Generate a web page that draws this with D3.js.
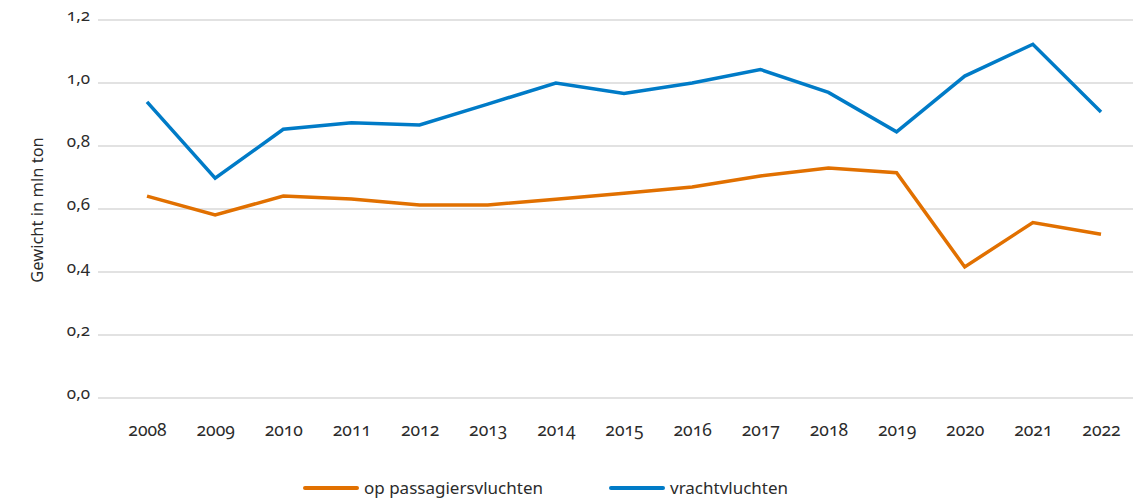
<!DOCTYPE html>
<html>
<head>
<meta charset="utf-8">
<script src="https://cdn.jsdelivr.net/npm/d3@7"></script>
<style>
    body { margin: 0; background: #fff; }
    svg text { font-family: "Noto Sans", "Open Sans", sans-serif; fill: #2b2b2b; font-variant-numeric: oldstyle-nums; }
</style>
</head>
<body>
<svg id="chart" width="1145" height="500"></svg>
<script>
const years = ["2008", "2009", "2010", "2011", "2012", "2013", "2014", "2015",
    "2016", "2017", "2018", "2019", "2020", "2021", "2022"];
const passagier = [0.641, 0.581, 0.641, 0.632, 0.613, 0.613, 0.631, 0.650,
    0.670, 0.705, 0.730, 0.715, 0.416, 0.557, 0.520];
const vracht = [0.940, 0.698, 0.853, 0.874, 0.867, 0.933, 1.000, 0.967,
    1.000, 1.043, 0.970, 0.845, 1.022, 1.123, 0.908];
const yTicks = [0, 0.2, 0.4, 0.6, 0.8, 1.0, 1.2];
const series = [
    {name: "op passagiersvluchten", values: passagier, color: "#e17000"},
    {name: "vrachtvluchten", values: vracht, color: "#007bc7"}
];

const svg = d3.select("#chart");
const gridLeft = 98, gridRight = 1133;

const x = d3.scalePoint().domain(years).range([147, 1101]);
const y = d3.scaleLinear().domain([0, 1.2]).range([398, 20]);
const fmt = d => d.toFixed(1).replace(".", ",");

// grid
svg.append("g").selectAll("line")
    .data(yTicks)
    .enter().append("line")
    .attr("x1", gridLeft).attr("x2", gridRight)
    .attr("y1", d => y(d)).attr("y2", d => y(d))
    .attr("stroke", "#d9d9d9").attr("stroke-width", 1.5);

// y axis
const axisY = d3.axisLeft(y).tickValues(yTicks).tickFormat(fmt).tickSize(0).tickPadding(0);
const axisYG = svg.append("g")
    .attr("transform", `translate(90,0)`)
    .call(axisY);
axisYG.select(".domain").remove();
axisYG.selectAll("text").attr("font-size", 17).attr("dy", "0.05em");

svg.append("text")
    .attr("transform", "translate(43,210) rotate(-90)")
    .attr("text-anchor", "middle")
    .attr("font-size", 16.5)
    .text("Gewicht in mln ton");

// x axis
const axisX = d3.axisBottom(x).tickSize(0).tickPadding(0);
const axisXG = svg.append("g")
    .attr("transform", `translate(0,424)`)
    .call(axisX);
axisXG.select(".domain").remove();
axisXG.selectAll("text").attr("font-size", 17.5);

// lines
const line = d3.line()
    .x((d, i) => x(years[i]))
    .y(d => y(d));

svg.append("g").selectAll("path")
    .data(series)
    .enter().append("path")
    .attr("d", d => line(d.values))
    .attr("fill", "none")
    .attr("stroke", d => d.color)
    .attr("stroke-width", 3.5)
    .attr("stroke-linejoin", "miter");

// legend
const legendX = [305, 611];
const lg = svg.append("g").selectAll("g")
    .data(series)
    .enter().append("g")
    .attr("transform", (d, i) => `translate(${legendX[i]},488)`);
lg.append("line")
    .attr("x1", 0).attr("x2", 52)
    .attr("stroke", d => d.color)
    .attr("stroke-width", 4)
    .attr("stroke-linecap", "round");
lg.append("text")
    .attr("x", 59).attr("dy", "0.35em")
    .attr("font-size", 17)
    .text(d => d.name);
</script>
</body>
</html>
